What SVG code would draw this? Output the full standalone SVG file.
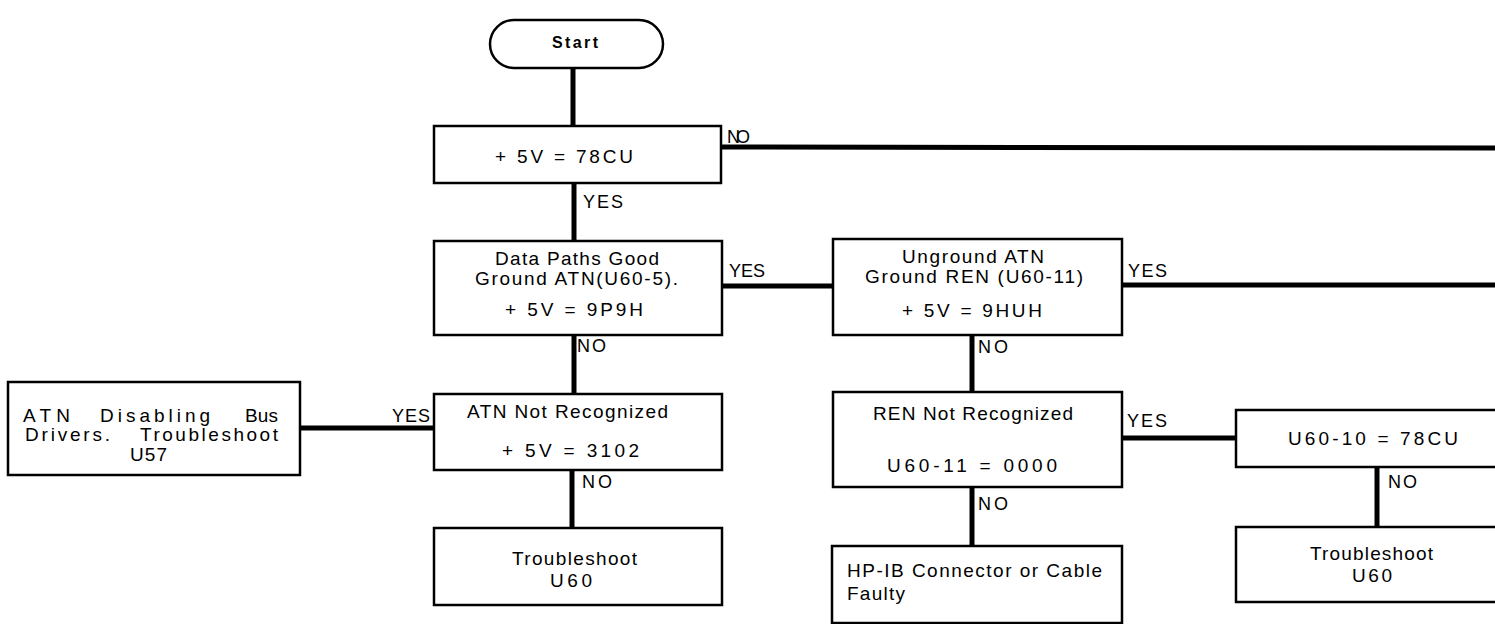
<svg xmlns="http://www.w3.org/2000/svg" width="1495" height="624" viewBox="0 0 1495 624">
<style>
.b{fill:#fff;stroke:#000;stroke-width:2.5}
.c{stroke:#000;stroke-width:5;fill:none}
.t{font-family:"Liberation Sans",Arial,Helvetica,sans-serif;font-size:19px;fill:#000}
.l{font-family:"Liberation Sans",Arial,Helvetica,sans-serif;font-size:18px;fill:#000}
</style>
<rect width="1495" height="624" fill="#fff"/>
<g id="connectors">
<line class="c" x1="573" y1="68" x2="573" y2="126"/>
<line class="c" x1="574" y1="183" x2="574" y2="241"/>
<line class="c" x1="721" y1="147" x2="1495" y2="148"/>
<line class="c" x1="722" y1="286" x2="833" y2="286"/>
<line class="c" x1="1122" y1="285" x2="1495" y2="285"/>
<line class="c" x1="574" y1="335" x2="574" y2="394"/>
<line class="c" x1="972" y1="335" x2="972" y2="392"/>
<line class="c" x1="300" y1="428" x2="434" y2="428"/>
<line class="c" x1="572" y1="470" x2="572" y2="528"/>
<line class="c" x1="1122" y1="438" x2="1236" y2="438"/>
<line class="c" x1="972" y1="487" x2="972" y2="546"/>
<line class="c" x1="1377" y1="467" x2="1377" y2="527"/>
<text class="l" x="727" y="143" textLength="23" lengthAdjust="spacing">NO</text>
<text class="l" x="583" y="208" textLength="40" lengthAdjust="spacing">YES</text>
<text class="l" x="729" y="277" textLength="36" lengthAdjust="spacing">YES</text>
<text class="l" x="1128" y="277" textLength="39" lengthAdjust="spacing">YES</text>
<text class="l" x="577" y="352" textLength="29" lengthAdjust="spacing">NO</text>
<text class="l" x="978" y="353" textLength="30" lengthAdjust="spacing">NO</text>
<text class="l" x="392" y="422" textLength="38" lengthAdjust="spacing">YES</text>
<text class="l" x="1127" y="427" textLength="40" lengthAdjust="spacing">YES</text>
<text class="l" x="582" y="488" textLength="30" lengthAdjust="spacing">NO</text>
<text class="l" x="1388" y="488" textLength="29" lengthAdjust="spacing">NO</text>
<text class="l" x="978" y="510" textLength="30" lengthAdjust="spacing">NO</text>
</g>
<g id="start">
<rect class="b" x="490" y="20" width="173" height="48" rx="24" ry="24"/>
<text class="t" x="552" y="48" style="font-size:16px;font-weight:bold" textLength="46" lengthAdjust="spacing">Start</text>
</g>
<g id="n1">
<rect class="b" x="434" y="126" width="287" height="57"/>
<text class="t" x="495" y="163" textLength="138" lengthAdjust="spacing">+ 5V = 78CU</text>
</g>
<g id="n2">
<rect class="b" x="434" y="241" width="288" height="94"/>
<text class="t" x="495" y="265" textLength="164" lengthAdjust="spacing">Data Paths Good</text>
<text class="t" x="475" y="285" textLength="203" lengthAdjust="spacing">Ground ATN(U60-5).</text>
<text class="t" x="505" y="316" textLength="138" lengthAdjust="spacing">+ 5V = 9P9H</text>
</g>
<g id="n3">
<rect class="b" x="833" y="239" width="289" height="96"/>
<text class="t" x="902" y="263" textLength="142" lengthAdjust="spacing">Unground ATN</text>
<text class="t" x="865" y="283" textLength="218" lengthAdjust="spacing">Ground REN (U60-11)</text>
<text class="t" x="902" y="317" textLength="140" lengthAdjust="spacing">+ 5V = 9HUH</text>
</g>
<g id="n4">
<rect class="b" x="434" y="394" width="288" height="76"/>
<text class="t" x="467" y="418" textLength="201" lengthAdjust="spacing">ATN Not Recognized</text>
<text class="t" x="502" y="457" textLength="137" lengthAdjust="spacing">+ 5V = 3102</text>
</g>
<g id="n5">
<rect class="b" x="8" y="382" width="292" height="93"/>
<text class="t"><tspan x="23" y="422" textLength="47" lengthAdjust="spacing">ATN</tspan><tspan x="100" y="422" textLength="110" lengthAdjust="spacing">Disabling</tspan><tspan x="245" y="422" textLength="33" lengthAdjust="spacing">Bus</tspan></text>
<text class="t"><tspan x="25" y="441" textLength="85" lengthAdjust="spacing">Drivers.</tspan><tspan x="140" y="441" textLength="138" lengthAdjust="spacing">Troubleshoot</tspan></text>
<text class="t" x="130" y="461" textLength="37" lengthAdjust="spacing">U57</text>
</g>
<g id="n6">
<rect class="b" x="434" y="528" width="288" height="77"/>
<text class="t" x="512" y="565" textLength="125" lengthAdjust="spacing">Troubleshoot</text>
<text class="t" x="550" y="587" textLength="42" lengthAdjust="spacing">U60</text>
</g>
<g id="n7">
<rect class="b" x="833" y="392" width="289" height="95"/>
<text class="t" x="873" y="420" textLength="200" lengthAdjust="spacing">REN Not Recognized</text>
<text class="t" x="887" y="472" textLength="170" lengthAdjust="spacing">U60-11 = 0000</text>
</g>
<g id="n8">
<rect class="b" x="1236" y="410" width="270" height="57"/>
<text class="t" x="1288" y="445" textLength="170" lengthAdjust="spacing">U60-10 = 78CU</text>
</g>
<g id="n9">
<rect class="b" x="832" y="546" width="290" height="77"/>
<text class="t" x="847" y="577" textLength="255" lengthAdjust="spacing">HP-IB Connector or Cable</text>
<text class="t" x="847" y="600" textLength="58" lengthAdjust="spacing">Faulty</text>
</g>
<g id="n10">
<rect class="b" x="1236" y="527" width="270" height="75"/>
<text class="t" x="1310" y="560" textLength="123" lengthAdjust="spacing">Troubleshoot</text>
<text class="t" x="1352" y="582" textLength="40" lengthAdjust="spacing">U60</text>
</g>
</svg>
